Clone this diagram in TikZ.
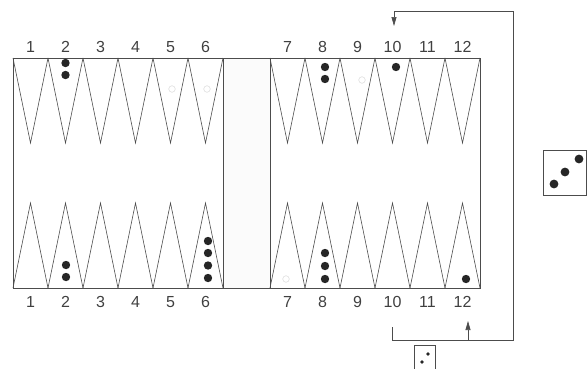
\documentclass[tikz,border=0pt]{standalone}
\usepackage{fontspec}
\setmainfont{Liberation Sans}
\usetikzlibrary{arrows.meta}
\tikzset{
  board/.style={line width=0.6pt, draw=black!70},
  checker/.style={fill=black!85},
  ghost/.style={draw=black!15, line width=0.5pt},
  ptlabel/.style={font=\fontsize{16}{18}\selectfont, text=black!75, inner sep=0pt},
  move/.style={line width=0.6pt, draw=black!70},
  movetip/.style={-{Triangle[width=5pt,length=9pt]}}
}
\begin{document}
\begin{tikzpicture}[x=1pt,y=-1pt]
\useasboundingbox (0,0) rectangle (587,368);
\clip (0,0) rectangle (587,368);

% Bar
\fill[black!1.5] (223,58) rectangle (270,288);

% Board frame
\draw[board] (13,58) rectangle (480,288);
\draw[board] (223,58) -- (223,288);
\draw[board] (270,58) -- (270,288);

% Points, left half
\foreach \i in {0,...,5} {
  \draw[board] (13+35*\i,58) -- (30.5+35*\i,143) -- (48+35*\i,58);
  \draw[board] (13+35*\i,288) -- (30.5+35*\i,203) -- (48+35*\i,288);
}
% Points, right half
\foreach \i in {0,...,5} {
  \draw[board] (270+35*\i,58) -- (287.5+35*\i,143) -- (305+35*\i,58);
  \draw[board] (270+35*\i,288) -- (287.5+35*\i,203) -- (305+35*\i,288);
}

% Point numbers
\foreach \n in {1,...,6} {
  \node[ptlabel] (top\n) at (-4.5+35*\n,47) {\n};
  \node[ptlabel] (bot\n) at (-4.5+35*\n,302) {\n};
}
\foreach \n [evaluate=\n as \x using 287.5+35*(\n-7)] in {7,...,12} {
  \node[ptlabel] (top\n) at (\x,47) {\n};
  \node[ptlabel] (bot\n) at (\x,302) {\n};
}

% Black checkers
\fill[checker] (65.5,63) circle (4.2) (65.5,75) circle (4.2);
\fill[checker] (325,67) circle (4.2) (325,79) circle (4.2);
\fill[checker] (396,67) circle (4.2);
\fill[checker] (66,265) circle (4.2) (66,277) circle (4.2);
\fill[checker] (208,241) circle (4.2) (208,253) circle (4.2)
  (208,265.5) circle (4.2) (208,278) circle (4.2);
\fill[checker] (325,253) circle (4.2) (325,266) circle (4.2) (325,279) circle (4.2);
\fill[checker] (466,279) circle (4.2);

% Faint checkers
\draw[ghost] (172,89) circle (3.3) (207,89) circle (3.3)
  (362,80) circle (3.3) (286,279) circle (3.3);

% Move
\coordinate (mvstart) at (392,327);
\coordinate (mvfork) at (468,340);
\coordinate (mvend) at (394,11);
\draw[move, movetip] (mvstart) -- (392,340) -- (513,340) -- (513,11)
  -- (mvend) -- (394,26);
\draw[move, movetip] (mvfork) -- (468,321);

% Dice
\draw[board] (543,150) rectangle (586,195);
\fill[checker] (579,159) circle (4.4) (565,172) circle (4.4) (554,184) circle (4.4);
\draw[board, line width=0.5pt] (414,345) rectangle (435,375);
\fill[checker] (428,354) circle (1.8) (422,362) circle (1.8);

\end{tikzpicture}
\end{document}
